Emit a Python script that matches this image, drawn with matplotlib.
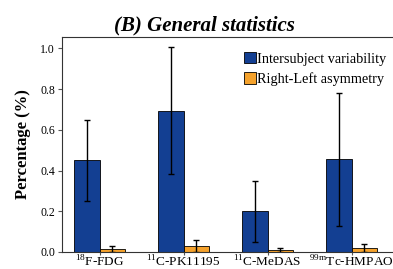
import numpy as np
import matplotlib
matplotlib.use("Agg")
import matplotlib.pyplot as plt

plt.rcParams['font.family'] = ['Liberation Serif', 'DejaVu Serif']
plt.rcParams['mathtext.fontset'] = 'custom'
plt.rcParams['mathtext.rm'] = 'Liberation Serif'

tracers = [r'$^{18}$F-FDG', r'$^{11}$C-PK11195', r'$^{11}$C-MeDAS', r'$^{\mathrm{99m}}$Tc-HMPAO']
inter_mean = [0.45, 0.695, 0.20, 0.455]
inter_err = [0.197, 0.31, 0.15, 0.327]
asym_mean = [0.015, 0.03, 0.01, 0.02]
asym_err = [0.013, 0.03, 0.008, 0.02]

blue = '#133f92'
orange = '#f5a22c'

fig = plt.figure(figsize=(3.93, 2.69), dpi=100)
ax = fig.add_axes([0.158, 0.0632, 0.86, 0.7993])

x = np.arange(len(tracers))
w = 0.3
ax.bar(x - w / 2, inter_mean, w, color=blue, edgecolor='black', linewidth=0.6,
       yerr=inter_err, error_kw=dict(ecolor='black', elinewidth=1.0, capsize=2.5, capthick=1.0),
       label='Intersubject variability')
ax.bar(x + w / 2, asym_mean, w, color=orange, edgecolor='black', linewidth=0.6,
       yerr=asym_err, error_kw=dict(ecolor='black', elinewidth=1.0, capsize=2.5, capthick=1.0),
       label='Right-Left asymmetry')

ax.set_xlim(-0.446, 3.578)
ax.set_ylim(0, 1.0565)
ax.set_xticks(x)
ax.set_xticklabels(tracers, fontsize=9.5)
ax.set_yticks([0.0, 0.2, 0.4, 0.6, 0.8, 1.0])
ax.set_yticklabels(['0.0', '0.2', '0.4', '0.6', '0.8', '1.0'], fontsize=8.5)
ax.tick_params(axis='both', direction='out', length=3, width=0.8, color='#555555', pad=2)
ax.tick_params(axis='x', length=2, pad=0)
ax.spines['right'].set_visible(False)
for s in ['left', 'bottom', 'top']:
    ax.spines[s].set_color('#333333')
    ax.spines[s].set_linewidth(0.8)

ax.set_ylabel('Percentage (%)', fontsize=12, fontweight='bold', labelpad=7)

ax.legend(loc='upper right', bbox_to_anchor=(0.985, 0.97), frameon=False, fontsize=10.3,
          handlelength=0.85, handleheight=0.85, handletextpad=0.1, labelspacing=0.45,
          borderaxespad=0.2)

fig.text(0.519, 0.905, '(B) General statistics', ha='center', va='center',
         fontsize=15, fontweight='bold', fontstyle='italic')

fig.savefig('out.png', dpi=100)
